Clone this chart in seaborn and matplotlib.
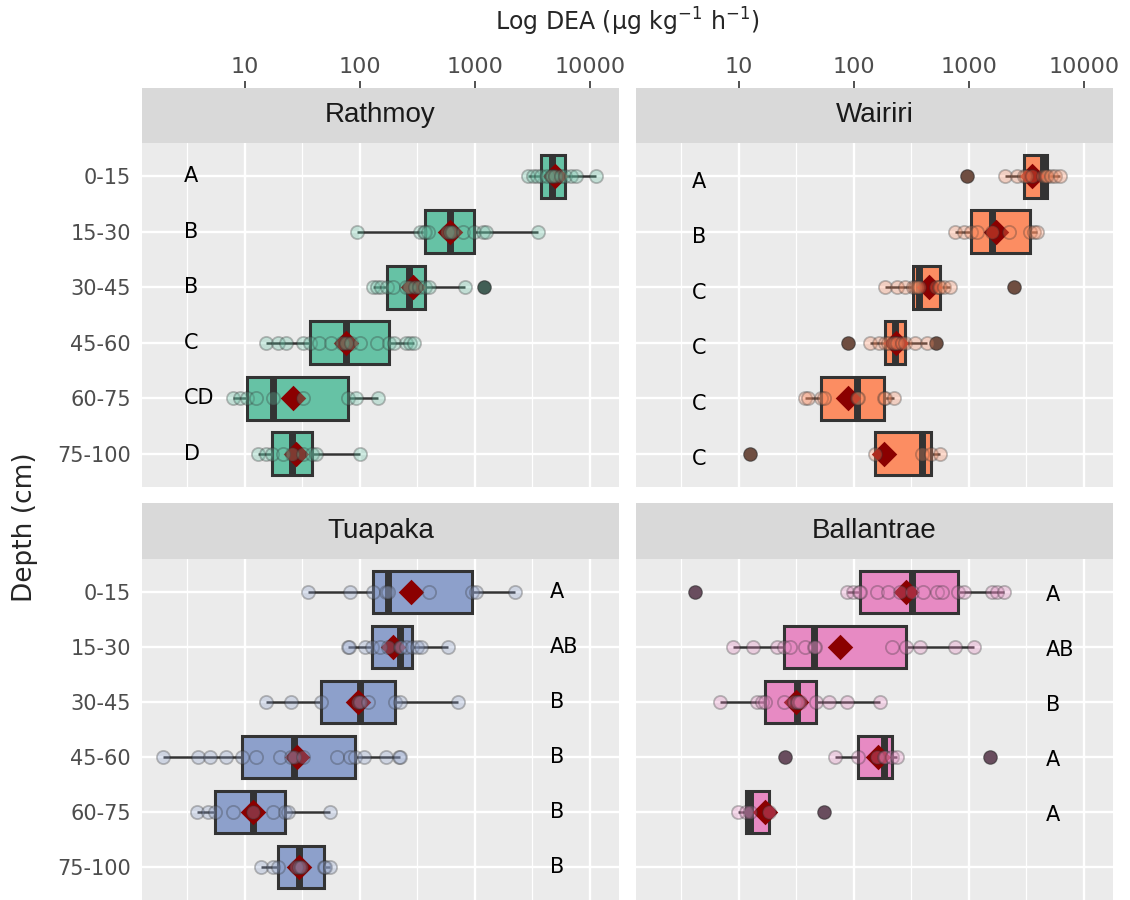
import numpy as np
import pandas as pd
import matplotlib
matplotlib.use("Agg")
import matplotlib.pyplot as plt
from matplotlib.ticker import LogLocator, FuncFormatter, NullFormatter
import seaborn as sns

# === Data (log10 DEA) ===
depths = ["0-15", "15-30", "30-45", "45-60", "60-75", "75-100"]
sites = ["Rathmoy", "Wairiri", "Tuapaka", "Ballantrae"]
site_colors = ["#66C2A5", "#FC8D62", "#8DA0CB", "#E78AC3"]

rathmoy_log = [
    [3.464, 3.507, 3.542, 3.574, 3.63, 3.66, 3.672, 3.70, 3.75, 3.788, 3.841, 3.884, 4.058],
    [1.977, 2.522, 2.555, 2.571, 2.594, 2.76, 2.788, 2.80, 2.899, 2.994, 3.072, 3.101, 3.551],
    [2.116, 2.151, 2.188, 2.238, 2.290, 2.406, 2.429, 2.478, 2.52, 2.568, 2.60, 2.913, 3.08],
    [1.188, 1.29, 1.362, 1.507, 1.568, 1.65, 1.754, 1.85, 1.884, 1.928, 2.0, 2.15, 2.255, 2.30, 2.406, 2.44, 2.47],
    [0.899, 0.96, 1.02, 1.101, 1.246, 1.507, 1.899, 1.971, 2.159],
    [1.116, 1.188, 1.241, 1.333, 1.414, 1.507, 1.588, 1.623, 2.0],
]
wairiri_log = [
    [2.986, 3.319, 3.42, 3.478, 3.50, 3.55, 3.646, 3.66, 3.67, 3.681, 3.72, 3.754, 3.797],
    [2.884, 2.957, 3.020, 3.072, 3.203, 3.348, 3.530, 3.565, 3.594],
    [2.275, 2.377, 2.449, 2.513, 2.53, 2.55, 2.565, 2.72, 2.745, 2.754, 2.783, 2.841, 3.391],
    [1.948, 2.145, 2.217, 2.275, 2.30, 2.34, 2.362, 2.38, 2.42, 2.45, 2.536, 2.638, 2.72],
    [1.58, 1.60, 1.716, 1.74, 2.029, 2.04, 2.267, 2.27, 2.348],
    [1.101, 2.188, 2.594, 2.672, 2.754],
]
tuapaka_log = [
    [1.551, 1.913, 2.116, 2.232, 2.246, 2.60, 2.980, 3.014, 3.348],
    [1.899, 1.91, 2.043, 2.107, 2.174, 2.25, 2.348, 2.36, 2.40, 2.458, 2.50, 2.536, 2.768],
    [1.188, 1.406, 1.664, 1.986, 2.006, 2.072, 2.304, 2.348, 2.855],
    [0.290, 0.594, 0.696, 0.835, 0.980, 1.10, 1.304, 1.40, 1.426, 1.507, 1.80, 1.92, 1.957, 2.035, 2.226, 2.34, 2.348],
    [0.586, 0.681, 0.739, 0.899, 1.072, 1.246, 1.348, 1.377, 1.739],
    [1.145, 1.25, 1.290, 1.45, 1.472, 1.493, 1.690, 1.70, 1.739],
]
ballantrae_log = [
    [0.623, 1.942, 1.99, 2.043, 2.058, 2.2, 2.30, 2.40, 2.507, 2.6, 2.725, 2.768, 2.907, 2.96, 3.203, 3.246, 3.304],
    [0.951, 1.122, 1.333, 1.391, 1.449, 1.580, 1.652, 1.667, 2.333, 2.458, 2.580, 2.884, 3.043],
    [0.841, 1.159, 1.20, 1.232, 1.391, 1.48, 1.507, 1.52, 1.536, 1.672, 1.783, 1.942, 2.232],
    [1.406, 1.841, 2.035, 2.20, 2.261, 2.27, 2.333, 2.377, 3.188],
    [0.991, 1.064, 1.096, 1.267, 1.739],
    [],
]

# significance letters per depth
rathmoy_letters = ["A", "B", "B", "C", "CD", "D"]
wairiri_letters = ["A", "B", "C", "C", "C", "C"]
tuapaka_letters = ["A", "AB", "B", "B", "B", "B"]
ballantrae_letters = ["A", "AB", "B", "A", "A"]

site_logs = dict(zip(sites, [rathmoy_log, wairiri_log, tuapaka_log, ballantrae_log]))
site_letters = dict(zip(sites, [rathmoy_letters, wairiri_letters, tuapaka_letters, ballantrae_letters]))
letter_x = {"Rathmoy": 2.95, "Wairiri": 3.9, "Tuapaka": 4500, "Ballantrae": 4700}
letter_dy = {"Rathmoy": 0.0, "Wairiri": 0.1, "Tuapaka": 0.0, "Ballantrae": 0.05}

# === Long table ===
rows = []
for site in sites:
    for depth, vals in zip(depths, site_logs[site]):
        for v in vals:
            rows.append([site, depth, v])
df = pd.DataFrame(rows, columns=["Site", "Depth", "logDEA"])
df["DEA"] = 10 ** df["logDEA"]
means = df.groupby(["Site", "Depth"], as_index=False)["logDEA"].mean()
means["DEA"] = 10 ** means["logDEA"]

# === Style ===
sns.set_theme(style="darkgrid", rc={"axes.facecolor": "#EBEBEB"})
plt.rcParams["font.family"] = ["DejaVu Sans"]

W, H = 1130, 900
fig = plt.figure(figsize=(W / 100, H / 100), dpi=100)


def rect(x0, y0, x1, y1):
    return [x0 / W, 1 - y1 / H, (x1 - x0) / W, (y1 - y0) / H]


col_px = [(142, 619), (636, 1113)]
row_px = [((88, 143), (143, 487)), ((503, 559), (559, 900))]
xlim = (10 ** 0.107, 10 ** 4.255)
dark = "#333333"

for k, site in enumerate(sites):
    r, c = divmod(k, 2)
    (sy0, sy1), (py0, py1) = row_px[r]
    x0, x1 = col_px[c]
    ax = fig.add_axes(rect(x0, py0, x1, py1))
    sub = df[df["Site"] == site]
    col = site_colors[k]

    sns.boxplot(data=sub, x="DEA", y="Depth", order=depths, log_scale=True,
                color=col, saturation=1, width=0.78, linecolor=dark, linewidth=2.2,
                showcaps=False, ax=ax,
                flierprops=dict(marker="o", markerfacecolor=dark, markeredgecolor=dark,
                                markersize=9, alpha=1),
                medianprops=dict(linewidth=5),
                whiskerprops=dict(linewidth=1.8))
    sns.stripplot(data=means[means["Site"] == site], x="DEA", y="Depth", order=depths,
                  log_scale=True, jitter=False, marker="D", color="#8B0000",
                  size=13, linewidth=0, ax=ax, zorder=4)
    sns.stripplot(data=sub, x="DEA", y="Depth", order=depths, log_scale=True,
                  jitter=False, color=col, alpha=0.3, size=9.5, linewidth=1.3,
                  edgecolor=dark, ax=ax, zorder=5)

    for i, lab in enumerate(site_letters[site]):
        ax.text(letter_x[site], i + letter_dy[site], lab, ha="left", va="center",
                fontsize=15, color="black")

    ax.set_xlim(*xlim)
    ax.set_ylim(5.6, -0.6)
    ax.xaxis.set_minor_locator(LogLocator(base=10, subs=(10 ** 0.5,)))
    ax.xaxis.set_minor_formatter(NullFormatter())
    ax.grid(which="major", color="white", linewidth=1.7)
    ax.grid(which="minor", axis="x", color="white", linewidth=0.9)
    ax.set_xlabel("")
    ax.set_ylabel("")
    for s in ax.spines.values():
        s.set_visible(False)
    ax.tick_params(axis="x", which="both", length=0, labelbottom=False, labeltop=False)
    if c == 0:
        ax.tick_params(axis="y", length=5, width=1.2, color=dark, pad=3,
                       labelsize=15, labelcolor="#4D4D4D")
    else:
        ax.tick_params(axis="y", length=0, labelleft=False)

    # strip with facet title; top row also carries the x axis
    sax = fig.add_axes(rect(x0, sy0, x1, sy1), sharex=ax)
    sax.set_facecolor("#D9D9D9")
    sax.grid(False)
    for s in sax.spines.values():
        s.set_visible(False)
    sax.set_yticks([])
    sax.text(0.5, 0.5, site, transform=sax.transAxes, ha="center", va="center",
             fontsize=20, color="#1A1A1A", family="Liberation Sans")
    sax.tick_params(axis="x", which="minor", length=0)
    if r == 0:
        sax.xaxis.set_major_formatter(FuncFormatter(lambda v, p: f"{v:.0f}"))
        sax.tick_params(axis="x", which="major", top=True, bottom=False, labeltop=True,
                        labelbottom=False, length=5, width=1.2, color=dark, pad=3,
                        labelsize=16, labelcolor="#4D4D4D")
        for t in sax.get_xticklabels():
            t.set_fontfamily("Liberation Sans Narrow")
    else:
        sax.tick_params(axis="x", which="both", length=0, labelbottom=False, labeltop=False)

fig.text(627.5 / W, 1 - 22 / H, "Log DEA (µg kg$^{-1}$ h$^{-1}$)", ha="center", va="center",
         fontsize=17)
fig.text(25 / W, 1 - 527 / H, "Depth (cm)", rotation=90, ha="center", va="center",
         fontsize=19)

fig.savefig("out.png", dpi=100)
